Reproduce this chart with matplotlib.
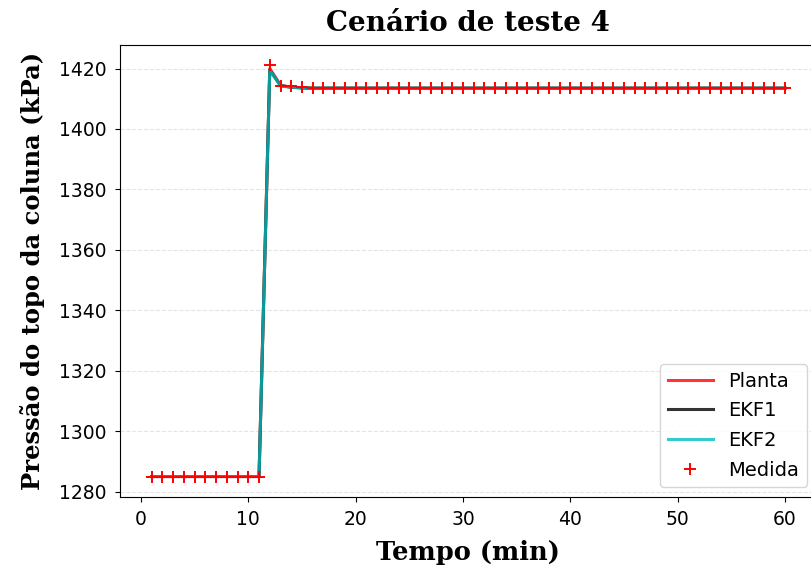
import numpy as np
from matplotlib import pyplot as plt

# time (min)
tempo = list(range(1, 61))

planta = [1285.0, 1285.0, 1285.0, 1285.0, 1285.0, 1285.0, 1285.0, 1285.0, 1285.0, 1285.0,
          1285.0, 1420.0, 1414.5, 1413.8, 1413.6, 1413.5, 1413.5, 1413.5, 1413.5, 1413.5,
          1413.5, 1413.5, 1413.5, 1413.5, 1413.5, 1413.5, 1413.5, 1413.5, 1413.5, 1413.5,
          1413.5, 1413.5, 1413.5, 1413.5, 1413.5, 1413.5, 1413.5, 1413.5, 1413.5, 1413.5,
          1413.5, 1413.5, 1413.5, 1413.5, 1413.5, 1413.5, 1413.5, 1413.5, 1413.5, 1413.5,
          1413.5, 1413.5, 1413.5, 1413.5, 1413.5, 1413.5, 1413.5, 1413.5, 1413.5, 1413.5]
ekf1 = [1285.0, 1285.0, 1285.0, 1285.0, 1285.0, 1285.0, 1285.0, 1285.0, 1285.0, 1285.0,
        1285.0, 1419.5, 1414.3, 1413.8, 1413.6, 1413.5, 1413.5, 1413.5, 1413.5, 1413.5,
        1413.5, 1413.5, 1413.5, 1413.5, 1413.5, 1413.5, 1413.5, 1413.5, 1413.5, 1413.5,
        1413.5, 1413.5, 1413.5, 1413.5, 1413.5, 1413.5, 1413.5, 1413.5, 1413.5, 1413.5,
        1413.5, 1413.5, 1413.5, 1413.5, 1413.5, 1413.5, 1413.5, 1413.5, 1413.5, 1413.5,
        1413.5, 1413.5, 1413.5, 1413.5, 1413.5, 1413.5, 1413.5, 1413.5, 1413.5, 1413.5]
ekf2 = [1285.0, 1285.0, 1285.0, 1285.0, 1285.0, 1285.0, 1285.0, 1285.0, 1285.0, 1285.0,
        1285.0, 1419.5, 1414.3, 1413.8, 1413.6, 1413.5, 1413.5, 1413.5, 1413.5, 1413.5,
        1413.5, 1413.5, 1413.5, 1413.5, 1413.5, 1413.5, 1413.5, 1413.5, 1413.5, 1413.5,
        1413.5, 1413.5, 1413.5, 1413.5, 1413.5, 1413.5, 1413.5, 1413.5, 1413.5, 1413.5,
        1413.5, 1413.5, 1413.5, 1413.5, 1413.5, 1413.5, 1413.5, 1413.5, 1413.5, 1413.5,
        1413.5, 1413.5, 1413.5, 1413.5, 1413.5, 1413.5, 1413.5, 1413.5, 1413.5, 1413.5]
medida = [1285.0, 1285.0, 1285.0, 1285.0, 1285.0, 1285.0, 1285.0, 1285.0, 1285.0, 1285.0,
          1285.0, 1421.0, 1414.3, 1414.2, 1414.0, 1413.6, 1413.5, 1413.5, 1413.5, 1413.5,
          1413.5, 1413.5, 1413.5, 1413.5, 1413.5, 1413.5, 1413.5, 1413.5, 1413.5, 1413.5,
          1413.5, 1413.5, 1413.5, 1413.5, 1413.5, 1413.5, 1413.5, 1413.5, 1413.5, 1413.5,
          1413.5, 1413.5, 1413.5, 1413.5, 1413.5, 1413.5, 1413.5, 1413.5, 1413.5, 1413.5,
          1413.5, 1413.5, 1413.5, 1413.5, 1413.5, 1413.5, 1413.5, 1413.5, 1413.5, 1413.5]

serif = {'family': 'DejaVu Serif', 'weight': 'bold'}

fig = plt.figure(figsize=(8.11, 5.76), dpi=100)
ax = fig.add_axes([0.148, 0.137, 0.859, 0.785])

ax.plot(tempo, planta, color='red', alpha=0.8, lw=2.2, label='Planta')
ax.plot(tempo, ekf1, color='black', alpha=0.8, lw=2.2, label='EKF1')
ax.plot(tempo, ekf2, color='c', alpha=0.8, lw=2.2, label='EKF2')
ax.plot(tempo, medida, '+', color='red', ms=9, mew=1.4, label='Medida')

ax.grid(axis='y', linestyle='--', color='lightgray', alpha=0.6)
ax.set_axisbelow(True)

ax.set_title('Cenário de teste 4', fontdict=serif, fontsize=20, pad=10)
ax.set_xlabel('Tempo (min)', fontdict=serif, fontsize=18.5, labelpad=8)
ax.set_ylabel('Pressão do topo da coluna (kPa)', fontdict=serif, fontsize=17.5, labelpad=10)
ax.tick_params(labelsize=13.5, pad=6)

ax.legend(loc='lower right', fontsize=14, labelspacing=0.55, handlelength=2.3)

plt.savefig('out.png', dpi=100)
